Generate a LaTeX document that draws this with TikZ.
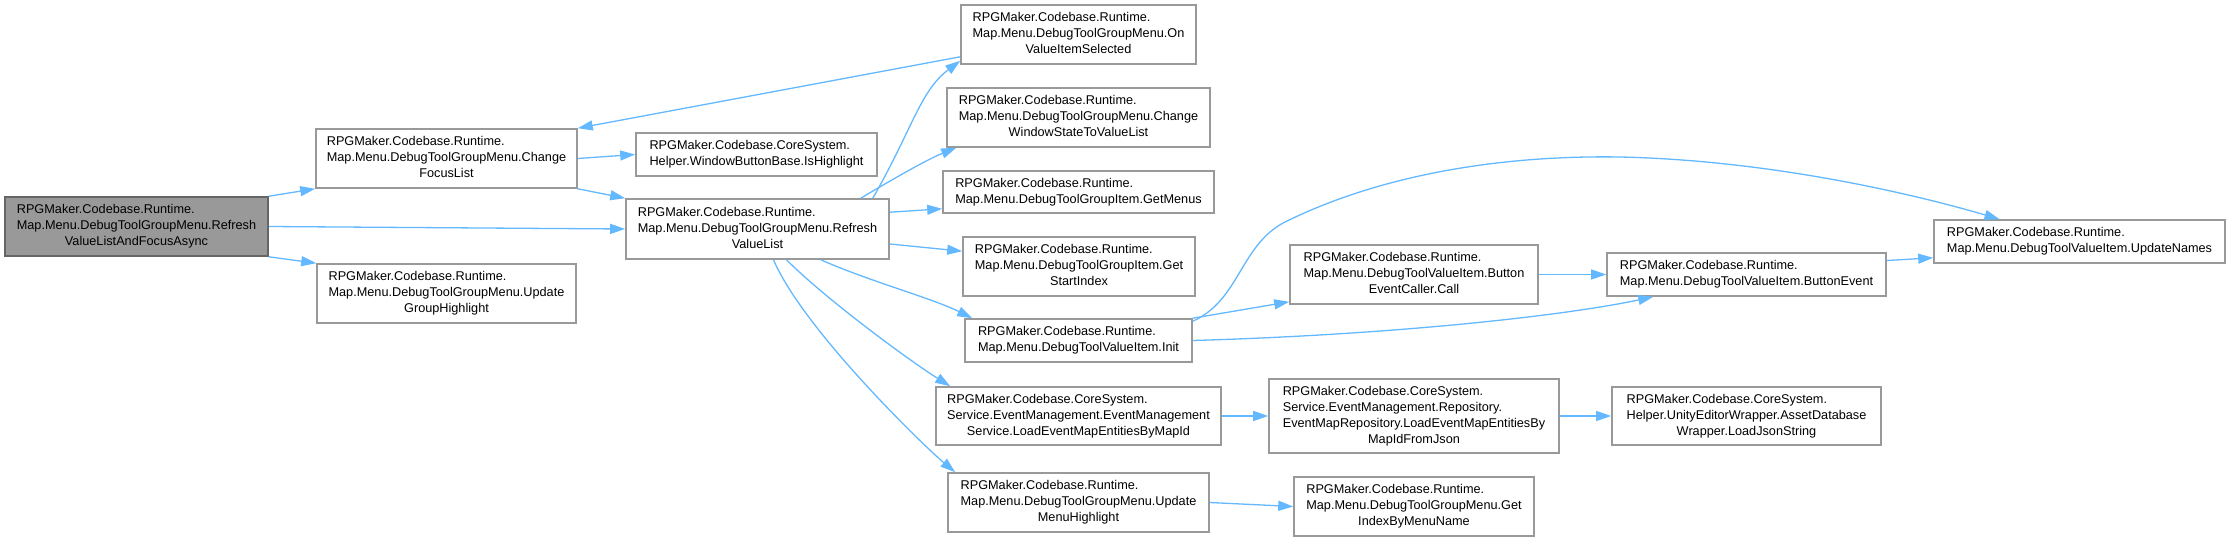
\documentclass[tikz,border=0pt]{standalone}
\usepackage{fontspec}
\setmainfont{Liberation Sans}
\usepackage{tikz}
\usetikzlibrary{arrows.meta,calc}

\definecolor{edgeblue}{HTML}{63B8FF}
\definecolor{boxline}{HTML}{999999}
\definecolor{rootline}{HTML}{666666}
\definecolor{rootfill}{HTML}{999999}

\newcommand{\twoline}[2]{\begin{tabular}{@{}l@{}}#1\\#2\end{tabular}}
\newcommand{\threeline}[3]{\begin{tabular}{@{}l@{}}#1\\#2\\\multicolumn{1}{@{}c@{}}{#3}\end{tabular}}
\newcommand{\fourline}[4]{\begin{tabular}{@{}l@{}}#1\\#2\\#3\\\multicolumn{1}{@{}c@{}}{#4}\end{tabular}}

\tikzset{
	fn/.style={draw=boxline,line width=1.6pt,fill=white,rectangle,inner sep=0pt,
		font=\fontsize{12.7}{16}\selectfont},
	fnroot/.style={fn,draw=rootline,fill=rootfill},
	call/.style={draw=edgeblue,line width=1.3pt,-{Triangle[length=15pt,width=10pt]}}
}

\begin{document}
\begin{tikzpicture}[x=1pt,y=-1pt]
		
		\useasboundingbox (0,0) rectangle (2231,541);
		
		% first two columns
		\node[fnroot,minimum width=263pt,minimum height=59pt] (root) at (136.5,226.5)
		{\threeline{RPGMaker.Codebase.Runtime.}{Map.Menu.DebugToolGroupMenu.Refresh}{ValueListAndFocusAsync}};
		
		\node[fn,minimum width=261pt,minimum height=59pt] (cfl) at (446.5,158.5)
		{\threeline{RPGMaker.Codebase.Runtime.}{Map.Menu.DebugToolGroupMenu.Change}{FocusList}};
		
		\node[fn,minimum width=259pt,minimum height=59pt] (ugh) at (446.5,293.5)
		{\threeline{RPGMaker.Codebase.Runtime.}{Map.Menu.DebugToolGroupMenu.Update}{GroupHighlight}};
		
		\node[fn,minimum width=241pt,minimum height=43pt] (ish) at (756.5,154.5)
		{\twoline{RPGMaker.Codebase.CoreSystem.}{Helper.WindowButtonBase.IsHighlight}};
		
		\node[fn,minimum width=263pt,minimum height=60pt] (rvl) at (757.5,229)
		{\threeline{RPGMaker.Codebase.Runtime.}{Map.Menu.DebugToolGroupMenu.Refresh}{ValueList}};
		
		% callees of RefreshValueList
		\node[fn,minimum width=235pt,minimum height=59pt] (ovs) at (1078.5,34.5)
		{\threeline{RPGMaker.Codebase.Runtime.}{Map.Menu.DebugToolGroupMenu.On}{ValueItemSelected}};
		
		\node[fn,minimum width=263pt,minimum height=59pt] (cws) at (1078.5,117.5)
		{\threeline{RPGMaker.Codebase.Runtime.}{Map.Menu.DebugToolGroupMenu.Change}{WindowStateToValueList}};
		
		\node[fn,minimum width=271pt,minimum height=42pt] (gm) at (1078.5,192)
		{\twoline{RPGMaker.Codebase.Runtime.}{Map.Menu.DebugToolGroupItem.GetMenus}};
		
		\node[fn,minimum width=232pt,minimum height=59pt] (gsi) at (1079,266.5)
		{\threeline{RPGMaker.Codebase.Runtime.}{Map.Menu.DebugToolGroupItem.Get}{StartIndex}};
		
		\node[fn,minimum width=227pt,minimum height=43pt] (init) at (1078.5,340.5)
		{\twoline{RPGMaker.Codebase.Runtime.}{Map.Menu.DebugToolValueItem.Init}};
		
		\node[fn,minimum width=285pt,minimum height=58pt] (lem) at (1078.5,416)
		{\threeline{RPGMaker.Codebase.CoreSystem.}{Service.EventManagement.EventManagement}{Service.LoadEventMapEntitiesByMapId}};
		
		\node[fn,minimum width=261pt,minimum height=59pt] (umh) at (1078.5,502.5)
		{\threeline{RPGMaker.Codebase.Runtime.}{Map.Menu.DebugToolGroupMenu.Update}{MenuHighlight}};
		
		% right part
		\node[fn,minimum width=248pt,minimum height=59pt] (bec) at (1414,274.5)
		{\threeline{RPGMaker.Codebase.Runtime.}{Map.Menu.DebugToolValueItem.Button}{EventCaller.Call}};
		
		\node[fn,minimum width=290pt,minimum height=74pt] (emr) at (1414,416)
		{\fourline{RPGMaker.Codebase.CoreSystem.}{Service.EventManagement.Repository.}{EventMapRepository.LoadEventMapEntitiesBy}{MapIdFromJson}};
		
		\node[fn,minimum width=240pt,minimum height=59pt] (gim) at (1414,506.5)
		{\threeline{RPGMaker.Codebase.Runtime.}{Map.Menu.DebugToolGroupMenu.Get}{IndexByMenuName}};
		
		\node[fn,minimum width=279pt,minimum height=43pt] (be) at (1746.5,274.5)
		{\twoline{RPGMaker.Codebase.Runtime.}{Map.Menu.DebugToolValueItem.ButtonEvent}};
		
		\node[fn,minimum width=269pt,minimum height=58pt] (adw) at (1746.5,416)
		{\threeline{RPGMaker.Codebase.CoreSystem.}{Helper.UnityEditorWrapper.AssetDatabase}{Wrapper.LoadJsonString}};
		
		\node[fn,minimum width=291pt,minimum height=43pt] (un) at (2079.5,241.5)
		{\twoline{RPGMaker.Codebase.Runtime.}{Map.Menu.DebugToolValueItem.UpdateNames}};
		
		% calls
		\draw[call] (root.north east) -- (cfl.south west);
		\draw[call] (root.east) -- (rvl.west);
		\draw[call] (root.south east) -- (ugh.north west);
		
		\draw[call] (cfl.east) -- (ish.west);
		\draw[call] (cfl.south east) -- (rvl.north west);
		
		\draw[call] ([xshift=-17pt]rvl.north east) .. controls +(40,-70) and +(-40,30) .. ([yshift=4pt]ovs.south west);
		\draw[call] ([yshift=8pt]ovs.south west) -- (cfl.north east);
		\draw[call] ([xshift=-29pt]rvl.north east) .. controls +(25,-15) and +(-30,12) .. ([xshift=10pt]cws.south west);
		\draw[call] ([yshift=-14pt]rvl.north east) -- ([yshift=5pt]gm.south west);
		\draw[call] ([yshift=-15pt]rvl.east) -- ([yshift=-15pt]gsi.north west);
		\draw[call] ([xshift=-69pt]rvl.south east) .. controls +(50,22) and +(-40,-20) .. ([xshift=8pt]init.north west);
		\draw[call] ([xshift=29pt]rvl.south) .. controls +(40,40) and +(-40,-25) .. ([xshift=15pt]lem.north west);
		\draw[call] ([xshift=16pt]rvl.south) .. controls +(30,70) and +(-30,-25) .. ([xshift=8pt]umh.north west);
		
		\draw[call] (init.north east) -- ([yshift=3pt]bec.south west);
		\draw[call] (init.east) .. controls +(208,-6) and +(-84,18) .. ([xshift=47pt]be.south west);
		\draw[call] ([yshift=-3pt]init.north east) .. controls (1240,300) and (1240,245) .. (1285,222)
			.. controls (1380,175) and (1500,155) .. (1620,157)
			.. controls (1760,160) and (1900,190) .. ([xshift=-80pt]un.north);
		
		\draw[call] (bec.east) -- (be.west);
		\draw[call] ([yshift=14pt]be.east) -- ([yshift=6pt]un.south west);
		
		\draw[call] (lem.east) -- (emr.west);
		\draw[call] (emr.east) -- (adw.west);
		\draw[call] (umh.east) -- (gim.west);
		
	\end{tikzpicture}
\end{document}
